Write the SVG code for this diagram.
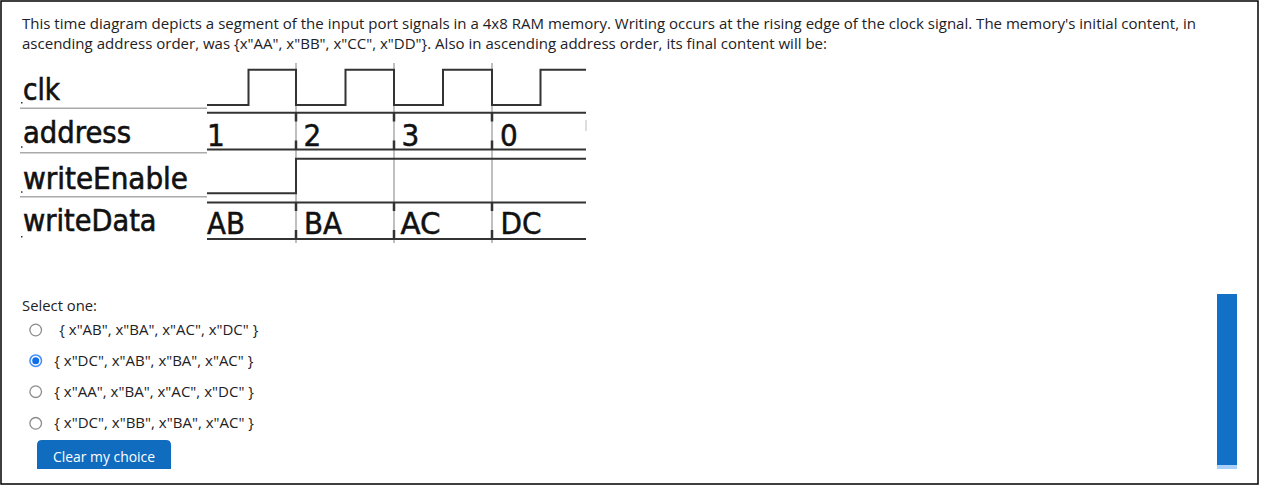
<svg xmlns="http://www.w3.org/2000/svg" width="1262" height="493" viewBox="0 0 1262 493">
<style>
.ui{font-family:"Open Sans","Noto Sans",sans-serif;font-size:15px;fill:#1d2125}
.lbl{font-family:"DejaVu Sans Condensed","DejaVu Sans",sans-serif;font-size:30px;fill:#111;stroke:#111;stroke-width:0.6}
.val{font-family:"DejaVu Sans Condensed","DejaVu Sans",sans-serif;font-size:31px;fill:#111;stroke:#111;stroke-width:0.5}
.tr{fill:none;stroke:#333;stroke-width:2}
.grid{fill:none;stroke:#aaa;stroke-width:1.5}
.tick{fill:none;stroke:#333;stroke-width:2.5}
.radio{fill:#fff;stroke:#8c8c8c;stroke-width:1.3}
</style>
<rect x="0" y="0" width="1262" height="493" fill="#fff"/>
<rect x="1" y="1" width="1257" height="483" fill="#fff" stroke="#000" stroke-width="1.5"/>

<g id="question">
<text class="ui" x="22" y="28.5" textLength="1174" lengthAdjust="spacingAndGlyphs">This time diagram depicts a segment of the input port signals in a 4x8 RAM memory. Writing occurs at the rising edge of the clock signal. The memory's initial content, in</text>
<text class="ui" x="22" y="48.5" textLength="805" lengthAdjust="spacingAndGlyphs">ascending address order, was {x"AA", x"BB", x"CC", x"DD"}. Also in ascending address order, its final content will be:</text>
</g>

<g id="timing-grid">
<line class="grid" x1="20" y1="108.3" x2="207" y2="108.3"/>
<line class="grid" x1="20" y1="152.7" x2="207" y2="152.7"/>
<line class="grid" x1="20" y1="196.7" x2="207" y2="196.7"/>
<line class="grid" x1="296" y1="63" x2="296" y2="243"/>
<line class="grid" x1="394" y1="63" x2="394" y2="243"/>
<line class="grid" x1="492" y1="63" x2="492" y2="243"/>
</g>

<g id="labels">
<text class="lbl" x="23" y="99.5" textLength="37" lengthAdjust="spacingAndGlyphs">clk</text>
<text class="lbl" x="23" y="143" textLength="108" lengthAdjust="spacingAndGlyphs">address</text>
<text class="lbl" x="23" y="188.7" textLength="165" lengthAdjust="spacingAndGlyphs">writeEnable</text>
<text class="lbl" x="23" y="231" textLength="133.5" lengthAdjust="spacingAndGlyphs">writeData</text>
<rect x="21" y="102" width="1.5" height="1.5" fill="#333"/>
<rect x="21" y="146.3" width="1.5" height="1.5" fill="#333"/>
<rect x="21" y="191.3" width="1.5" height="1.5" fill="#333"/>
<rect x="21" y="236" width="1.5" height="1.5" fill="#333"/>
</g>

<g id="clk">
<path class="tr" d="M207,105 H248.5 V69.7 H296 V105 H345.5 V69.7 H394 V105 H443 V69.7 H492 V105 H540.5 V69.7 H586"/>
</g>

<g id="address">
<line class="tr" x1="207" y1="112.7" x2="586" y2="112.7"/>
<line class="tr" x1="207" y1="149.5" x2="586" y2="149.5"/>
<path class="tick" d="M296,112.7 V121.5 M296,140.5 V149.5 M394,112.7 V121.5 M394,140.5 V149.5 M492,112.7 V121.5 M492,140.5 V149.5"/>
<line x1="586" y1="120" x2="586" y2="131" stroke="#bbb" stroke-width="1"/>
<text class="val" x="207" y="146">1</text>
<text class="val" x="303.5" y="146">2</text>
<text class="val" x="401.5" y="146">3</text>
<text class="val" x="500" y="146">0</text>
</g>

<g id="writeEnable">
<path class="tr" d="M207,193.3 H296 V158.8 H586"/>
</g>

<g id="writeData">
<line class="tr" x1="207" y1="202.5" x2="586" y2="202.5"/>
<line class="tr" x1="207" y1="239" x2="586" y2="239"/>
<path class="tick" d="M296,202.5 V211 M296,230 V239 M394,202.5 V211 M394,230 V239 M492,202.5 V211 M492,230 V239"/>
<text class="val" x="207" y="234" textLength="38" lengthAdjust="spacingAndGlyphs">AB</text>
<text class="val" x="304" y="234" textLength="38" lengthAdjust="spacingAndGlyphs">BA</text>
<text class="val" x="400.5" y="234" textLength="40" lengthAdjust="spacingAndGlyphs">AC</text>
<text class="val" x="500.5" y="234" textLength="41" lengthAdjust="spacingAndGlyphs">DC</text>
</g>

<g id="answers">
<text class="ui" x="22" y="310.5" textLength="75" lengthAdjust="spacingAndGlyphs">Select one:</text>
<g id="opt1">
<circle class="radio" cx="35.7" cy="330" r="5.8"/>
<text class="ui" x="59.3" y="335" textLength="199" lengthAdjust="spacingAndGlyphs">{ x"AB", x"BA", x"AC", x"DC" }</text>
</g>
<g id="opt2">
<circle cx="35.7" cy="360.7" r="5.8" fill="#fff" stroke="#3d8bfd" stroke-width="1.5"/>
<circle cx="35.7" cy="360.7" r="3.5" fill="#0f6fe6"/>
<text class="ui" x="54.3" y="365.7" textLength="199" lengthAdjust="spacingAndGlyphs">{ x"DC", x"AB", x"BA", x"AC" }</text>
</g>
<g id="opt3">
<circle class="radio" cx="35.7" cy="391.7" r="5.8"/>
<text class="ui" x="54.3" y="396.7" textLength="199.7" lengthAdjust="spacingAndGlyphs">{ x"AA", x"BA", x"AC", x"DC" }</text>
</g>
<g id="opt4">
<circle class="radio" cx="35.7" cy="423.3" r="5.8"/>
<text class="ui" x="54.3" y="428.3" textLength="199.7" lengthAdjust="spacingAndGlyphs">{ x"DC", x"BB", x"BA", x"AC" }</text>
</g>
</g>

<g id="clear-button">
<path d="M37,469 V445 Q37,440 42,440 H166 Q171,440 171,445 V469 Z" fill="#0f6cbf"/>
<text x="104" y="461.5" text-anchor="middle" font-family="'Open Sans','Noto Sans',sans-serif" font-size="15" fill="#fff" textLength="102" lengthAdjust="spacingAndGlyphs">Clear my choice</text>
</g>

<g id="scrollbar">
<rect x="1217" y="294" width="20" height="171" fill="#1270c6"/>
<rect x="1217" y="465" width="20" height="4" fill="#a9d1f7"/>
</g>
</svg>
